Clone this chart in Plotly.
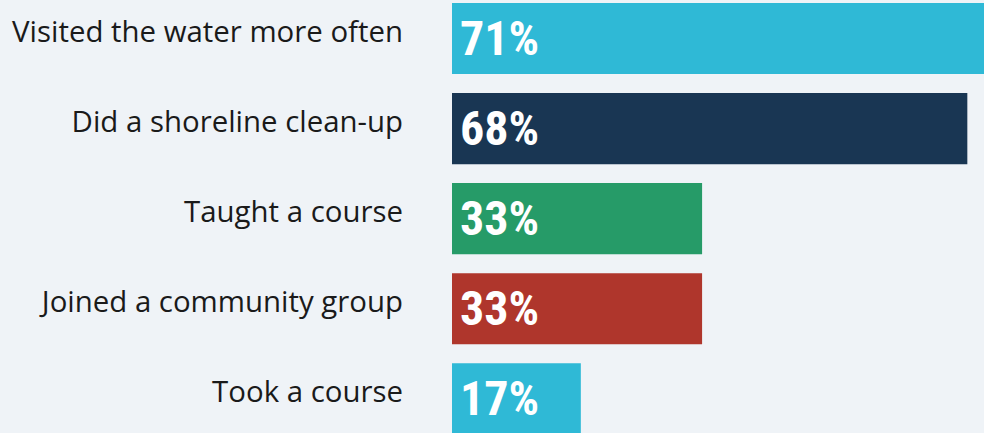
import plotly.graph_objects as go

categories = ["Visited the water more often", "Did a shoreline clean-up", "Taught a course",
              "Joined a community group", "Took a course"]
values = [71, 68, 33, 33, 17]
colors = ["#2fb9d6", "#193653", "#269b68", "#af362c", "#2fb9d6"]

fig = go.Figure(go.Bar(
    x=values, y=categories, orientation="h",
    marker=dict(color=colors, line=dict(width=0)),
    width=0.79,
    texttemplate="\u200a%{x}%", textposition="inside", insidetextanchor="start",
    textangle=0,
    textfont=dict(family="Roboto Condensed", size=48, color="white", weight="bold"),
    hoverinfo="skip",
))

fig.update_layout(
    width=984, height=433,
    margin=dict(l=452, r=0, t=0, b=0),
    paper_bgcolor="#eff3f7", plot_bgcolor="#eff3f7",
    showlegend=False,
    uniformtext=dict(minsize=10, mode=False),
    xaxis=dict(range=[0, 70.2], visible=False, fixedrange=True),
    yaxis=dict(range=[4.379, -0.427], showgrid=False, zeroline=False, showline=False,
               ticks="", ticklabelstandoff=48, ticklabelshift=7,
               tickfont=dict(family="Open Sans", size=29.4, color="#1a1a1a"),
               fixedrange=True),
)

fig.write_html("out.html", config={"displayModeBar": False},
               post_script="document.body.style.margin='0';")
